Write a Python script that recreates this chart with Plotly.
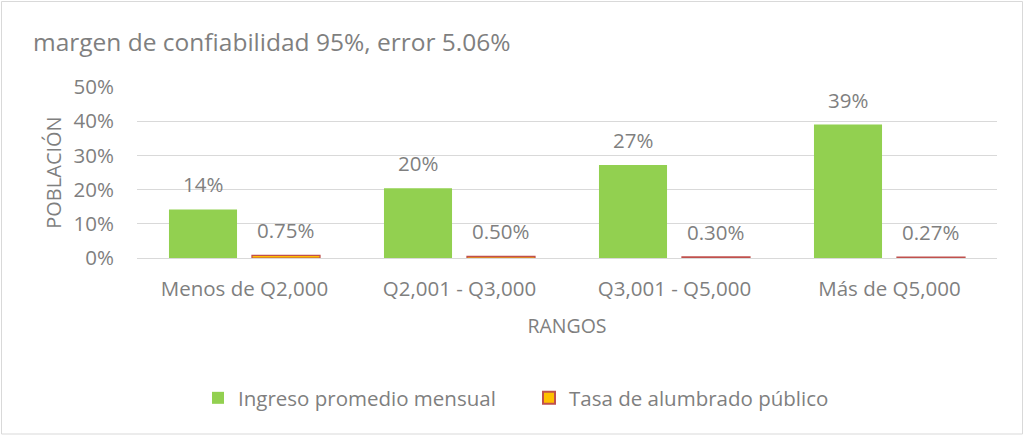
import plotly.graph_objects as go

categories = ["Menos de Q2,000", "Q2,001 - Q3,000", "Q3,001 - Q5,000", "Más de Q5,000"]
ingreso = [0.142, 0.204, 0.272, 0.39]
tasa = [0.0075, 0.005, 0.003, 0.0027]
ingreso_labels = ["14%", "20%", "27%", "39%"]
tasa_labels = ["0.75%", "0.50%", "0.30%", "0.27%"]
y_ticks = [0, 0.1, 0.2, 0.3, 0.4, 0.5]
y_ticklabels = ["0%", "10%", "20%", "30%", "40%", "50%"]

FONT = "Open Sans"
GRAY = "#7f7f7f"
GREEN = "#92D050"
ORANGE = "#FFC000"
RED = "#C0504D"

# plot area in pixels
L, R, T, B = 137, 997, 87, 258
W, H = 1027, 436

fig = go.Figure()
fig.add_trace(go.Bar(name="Ingreso promedio mensual", x=categories, y=ingreso,
                     marker=dict(color=GREEN, line=dict(width=0))))
fig.add_trace(go.Bar(name="Tasa de alumbrado público", x=categories, y=tasa,
                     marker=dict(color=ORANGE, line=dict(color=RED, width=1.2))))

annotations = []
for i, c in enumerate(categories):
    annotations.append(dict(x=c, y=ingreso[i], xref="x", yref="y", text=ingreso_labels[i],
                            showarrow=False, xshift=-41.5, yshift=25, yanchor="middle",
                            font=dict(family=FONT, size=20.5, color=GRAY)))
    annotations.append(dict(x=c, y=tasa[i], xref="x", yref="y", text=tasa_labels[i],
                            showarrow=False, xshift=41.5, yshift=25, yanchor="middle",
                            font=dict(family=FONT, size=20.5, color=GRAY)))

fig.update_layout(
    width=W, height=H,
    margin=dict(l=L, r=W - R, t=T, b=H - B),
    paper_bgcolor="white", plot_bgcolor="white",
    barmode="group", bargap=0.228, bargroupgap=0.18,
    title=dict(text="margen de confiabilidad 95%, error 5.06%", xref="container", yref="container",
               x=33 / W, y=1 - 42 / H, xanchor="left", yanchor="middle",
               font=dict(family=FONT, size=24.5, color=GRAY)),
    font=dict(family=FONT, size=20.5, color=GRAY),
    showlegend=True,
    legend=dict(orientation="h", x=(198 - L) / (R - L), y=(B - 398) / (B - T), xanchor="left", yanchor="middle",
                font=dict(family=FONT, size=20.5, color=GRAY), itemsizing="constant",
                entrywidth=286, entrywidthmode="pixels", tracegroupgap=0),
    annotations=annotations,
    shapes=[dict(type="rect", xref="paper", yref="paper",
                 x0=(1.5 - L) / (R - L), x1=(1022.5 - L) / (R - L),
                 y0=(B - 434) / (B - T), y1=(B - 1.5) / (B - T),
                 line=dict(color="#d9d9d9", width=1), fillcolor="rgba(0,0,0,0)", layer="below")],
)
fig.update_xaxes(showgrid=False, showline=True, linecolor="#d9d9d9", linewidth=1,
                 ticks="outside", ticklen=12, tickcolor="rgba(0,0,0,0)",
                 tickfont=dict(family=FONT, size=20.5, color=GRAY),
                 title=dict(text="RANGOS", standoff=18, font=dict(family=FONT, size=19.5, color=GRAY)))
fig.update_yaxes(range=[0, 0.5], tickvals=y_ticks, ticktext=y_ticklabels,
                 showgrid=True, gridcolor="#d9d9d9", gridwidth=1, zeroline=False,
                 ticks="outside", ticklen=18, tickcolor="rgba(0,0,0,0)",
                 tickfont=dict(family=FONT, size=20.5, color=GRAY),
                 title=dict(text="POBLACIÓN", standoff=6, font=dict(family=FONT, size=20, color=GRAY)))

fig.write_html("out.html", config={"displayModeBar": False},
               post_script="document.body.style.margin='0';")
